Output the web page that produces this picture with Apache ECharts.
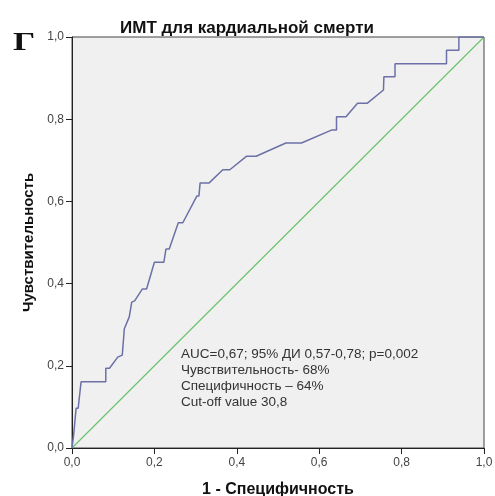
<!DOCTYPE html>
<html>
<head>
<meta charset="utf-8">
<script src="https://cdn.jsdelivr.net/npm/echarts@6/dist/echarts.min.js"></script>
<style>
  html, body { margin: 0; padding: 0; background: #ffffff; }
  #chart { width: 495px; height: 496px; }
</style>
</head>
<body>
<div id="chart"></div>
<script>
// ROC curve: 1 - specificity (x) vs sensitivity (y)
const fpr = [0, 0.004, 0.010, 0.015, 0.022, 0.082, 0.082, 0.091, 0.111, 0.122, 0.127, 0.139, 0.145, 0.152,
  0.171, 0.181, 0.200, 0.223, 0.228, 0.236, 0.258, 0.269, 0.303, 0.308, 0.311, 0.333, 0.366, 0.383,
  0.424, 0.447, 0.519, 0.557, 0.631, 0.642, 0.642, 0.665, 0.693, 0.717, 0.756, 0.757, 0.784, 0.784,
  0.909, 0.909, 0.939, 0.939, 1.0];
const tpr = [0, 0.032, 0.097, 0.097, 0.161, 0.161, 0.194, 0.194, 0.221, 0.226, 0.290, 0.319, 0.355, 0.358,
  0.387, 0.387, 0.452, 0.452, 0.484, 0.484, 0.548, 0.548, 0.613, 0.613, 0.645, 0.645, 0.677, 0.677,
  0.710, 0.710, 0.742, 0.742, 0.774, 0.774, 0.806, 0.806, 0.839, 0.839, 0.871, 0.903, 0.903, 0.935,
  0.935, 0.968, 0.968, 1.0, 1.0];
// Reference line of no discrimination
const refX = [0, 1];
const refY = [0, 1];

const titleText = 'ИМТ для кардиальной смерти';
const panelLetter = 'Г';
const xName = '1 - Специфичность';
const yName = 'Чувствительность';
const statsLines = [
  'AUC=0,67; 95% ДИ 0,57-0,78; p=0,002',
  'Чувствительность- 68%',
  'Специфичность – 64%',
  'Cut-off value 30,8'
];

const fmt = v => v.toFixed(1).replace('.', ',');
const FONT = '"Liberation Sans", Arial, sans-serif';

const chart = echarts.init(document.getElementById('chart'), null, { renderer: 'canvas' });

const axisCommon = {
  type: 'value', min: 0, max: 1, interval: 0.2,
  axisLine: { show: true, lineStyle: { color: '#222', width: 1 } },
  axisTick: { show: true, length: 6, lineStyle: { color: '#222' } },
  axisLabel: { color: '#444', fontFamily: FONT, fontSize: 12, formatter: fmt, margin: 8 },
  splitLine: { show: false },
  nameLocation: 'middle',
  nameTextStyle: { color: '#111', fontFamily: FONT, fontWeight: 'bold' }
};

chart.setOption({
  animation: false,
  backgroundColor: '#ffffff',
  grid: {
    left: 72, right: 11, top: 37, bottom: 48,
    outerBoundsMode: 'none', containLabel: false,
    show: true, backgroundColor: '#f0f0f0', borderColor: '#444', borderWidth: 1
  },
  title: {
    text: titleText, left: 242, top: 15, textAlign: 'center',
    textStyle: { fontFamily: FONT, fontSize: 17, fontWeight: 'bold', color: '#111' }
  },
  xAxis: Object.assign({}, axisCommon, {
    name: xName, nameGap: 34,
    nameTextStyle: Object.assign({}, axisCommon.nameTextStyle, { fontSize: 16 }),
    axisLabel: Object.assign({}, axisCommon.axisLabel, { margin: 9 })
  }),
  yAxis: Object.assign({}, axisCommon, {
    name: yName, nameGap: 33,
    nameTextStyle: Object.assign({}, axisCommon.nameTextStyle, { fontSize: 15 })
  }),
  graphic: [
    {
      type: 'text', left: 13, top: 31, scaleX: 1.4,
      style: { text: panelLetter, font: 'bold 25px "Liberation Serif", "Times New Roman", serif', fill: '#111' }
    },
    {
      type: 'text', left: 181, top: 346,
      style: {
        text: statsLines.join('\n'), font: '13.5px ' + FONT, fill: '#333', lineHeight: 16
      }
    }
  ],
  series: [
    {
      type: 'line', data: refX.map((x, i) => [x, refY[i]]),
      showSymbol: false, symbol: 'none',
      lineStyle: { color: '#6cc36e', width: 1.2 }, z: 3
    },
    {
      type: 'line', data: fpr.map((x, i) => [x, tpr[i]]),
      showSymbol: false, symbol: 'none',
      lineStyle: { color: '#6c70a6', width: 1.5 }, z: 4
    }
  ]
});
</script>
</body>
</html>
